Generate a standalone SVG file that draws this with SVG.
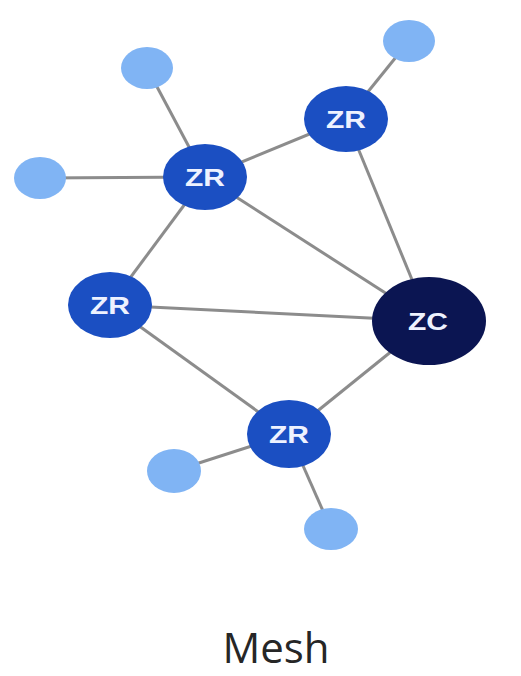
<svg xmlns="http://www.w3.org/2000/svg" width="521" height="676" viewBox="0 0 521 676">
<style>
.edge{stroke:#8c8c8c;stroke-width:3;fill:none}
.leaf{fill:#80b4f4}
.zr{fill:#1b4fc2}
.zc{fill:#0b1552}
.lbl{font-family:"Liberation Sans",Arial,sans-serif;font-weight:bold;font-size:24px;fill:#eef2ff;text-anchor:middle}
.title{font-family:"Open Sans","DejaVu Sans",sans-serif;font-size:42px;fill:#262626;text-anchor:middle}
</style>
<rect width="521" height="676" fill="#ffffff"/>
<g id="connectors">
<line class="edge" x1="147" y1="68" x2="205" y2="177"/>
<line class="edge" x1="409" y1="41" x2="346" y2="119"/>
<line class="edge" x1="40" y1="178" x2="205" y2="177"/>
<line class="edge" x1="205" y1="177" x2="346" y2="119"/>
<line class="edge" x1="205" y1="177" x2="429" y2="321"/>
<line class="edge" x1="346" y1="119" x2="429" y2="321"/>
<line class="edge" x1="205" y1="177" x2="110" y2="305"/>
<line class="edge" x1="110" y1="305" x2="429" y2="321"/>
<line class="edge" x1="110" y1="305" x2="289" y2="434"/>
<line class="edge" x1="429" y1="321" x2="289" y2="434"/>
<line class="edge" x1="289" y1="434" x2="174" y2="471"/>
<line class="edge" x1="289" y1="434" x2="331" y2="529"/>
</g>
<g id="leaf1"><ellipse class="leaf" cx="147" cy="68" rx="26" ry="21"/></g>
<g id="leaf2"><ellipse class="leaf" cx="409" cy="41" rx="26" ry="21"/></g>
<g id="leaf3"><ellipse class="leaf" cx="40" cy="178" rx="26" ry="21"/></g>
<g id="leaf4"><ellipse class="leaf" cx="174" cy="471" rx="27" ry="22"/></g>
<g id="leaf5"><ellipse class="leaf" cx="331" cy="529" rx="27" ry="21"/></g>
<g id="zr1"><ellipse class="zr" cx="346" cy="119" rx="42" ry="33"/><text class="lbl" x="346" y="128" textLength="40" lengthAdjust="spacingAndGlyphs">ZR</text></g>
<g id="zr2"><ellipse class="zr" cx="205" cy="177" rx="42" ry="33"/><text class="lbl" x="205" y="186" textLength="40" lengthAdjust="spacingAndGlyphs">ZR</text></g>
<g id="zr3"><ellipse class="zr" cx="110" cy="305" rx="42" ry="33"/><text class="lbl" x="110" y="314" textLength="40" lengthAdjust="spacingAndGlyphs">ZR</text></g>
<g id="zr4"><ellipse class="zr" cx="289" cy="434" rx="42" ry="34"/><text class="lbl" x="289" y="443" textLength="40" lengthAdjust="spacingAndGlyphs">ZR</text></g>
<g id="zc"><ellipse class="zc" cx="429" cy="321" rx="57" ry="44"/><text class="lbl" x="428" y="330" textLength="40" lengthAdjust="spacingAndGlyphs">ZC</text></g>
<text class="title" x="276" y="663">Mesh</text>
</svg>
